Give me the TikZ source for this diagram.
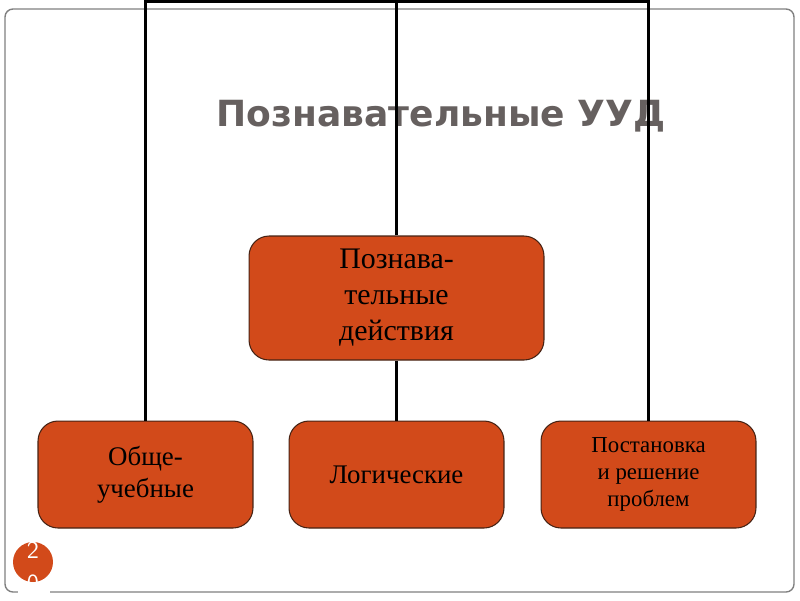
\documentclass[tikz,border=0pt]{standalone}
\usepackage{fontspec}
\setmainfont{Liberation Serif}
\newfontfamily\titlefont{DejaVu Sans}
\definecolor{boxfill}{RGB}{210,74,26}
\definecolor{boxline}{RGB}{70,35,20}
\definecolor{titlegray}{RGB}{102,96,95}
\begin{document}
\begin{tikzpicture}[x=0.02cm, y=-0.02cm,
	uudbox/.style = {draw = boxline, fill = boxfill, rounded corners = 0.4cm, line width = 0.6pt, align = center, inner sep = 2pt},
	smallbox/.style = {uudbox, minimum width = 4.3cm, minimum height = 2.14cm},
	link/.style = {line width = 1.5pt}]
	\useasboundingbox (0,0) rectangle (800,600);
	\draw [gray, line width = 0.8pt, rounded corners = 0.16cm] (5,9) rectangle (794,592);
	\node [titlegray, font = \titlefont\bfseries\fontsize{20.5}{25}\selectfont] (title) at (441,116) {Познавательные УУД};
	% boxes
	\node [uudbox, minimum width = 5.9cm, minimum height = 2.48cm, font = \fontsize{17}{20.5}\selectfont] (main) at (396.5,298) {Познава-\\тельные\\действия};
	\node [smallbox, font = \fontsize{15.3}{18}\selectfont] (general) at (145.5,474.5) {Обще-\\учебные};
	\node [smallbox, font = \fontsize{15.3}{18}\selectfont] (logic) at (396.5,474.5) {Логическиe};
	\node [smallbox, font = \fontsize{13}{15.5}\selectfont] (problem) at (648.5,474.5) {Постановка\\и решение\\проблем};
	% connectors
	\coordinate (topl) at (145.5,1.5);
	\coordinate (topm) at (396.5,1.5);
	\coordinate (topr) at (648.5,1.5);
	\draw [link] (general.north) -- (topl) -- (topr) -- (problem.north);
	\draw [link] (main.north) -- (topm);
	\draw [link] (main.south) -- (logic.north);
	% slide number
	\fill [white] (18,590) rectangle (50,594);
	\node [circle, fill = boxfill, minimum size = 0.8cm, inner sep = 0pt] (num) at (33,562) {};
	\node [white, font = \sffamily\fontsize{14}{14}\selectfont] (numa) at (33,550) {2};
	\node [white, font = \sffamily\fontsize{14}{14}\selectfont] (numb) at (33,583) {0};
\end{tikzpicture}
\end{document}
